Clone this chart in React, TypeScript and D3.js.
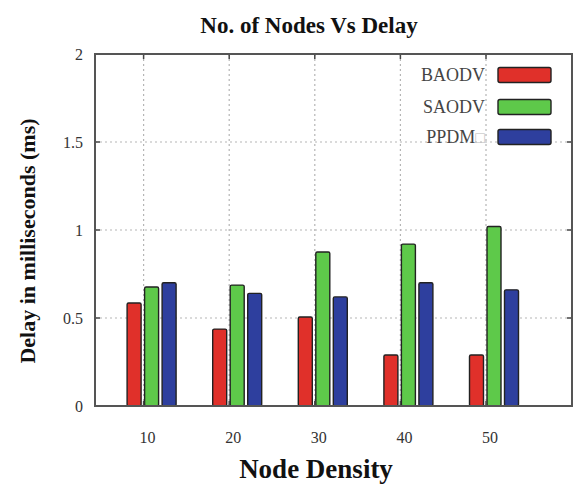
import * as d3 from "d3";
import { useEffect, useRef } from "react";

const densities = [10, 20, 30, 40, 50];
const seriesNames = ["BAODV", "SAODV", "PPDM"];
const baodv = [0.585, 0.437, 0.506, 0.29, 0.29];
const saodv = [0.676, 0.687, 0.875, 0.92, 1.02];
const ppdm = [0.7, 0.64, 0.62, 0.7, 0.66];
const yTicks = [0, 0.5, 1, 1.5, 2];
const colors = ["#e0302a", "#5ec94a", "#2e3f9e"];

export default function App() {
  const ref = useRef<SVGSVGElement>(null);

  useEffect(() => {
    const svg = d3.select(ref.current);
    svg.selectAll("*").remove();
    const W = 573, H = 487;
    const left = 95, right = 572, top = 54, bottom = 406;
    const font = "'Liberation Serif', 'Times New Roman', serif";

    svg.append("rect").attr("width", W).attr("height", H).attr("fill", "white");

    const x = d3.scaleLinear().domain([10, 50]).range([143.6, 486]);
    const y = d3.scaleLinear().domain([0, 2]).range([bottom, top]);
    const x1 = d3.scaleBand().domain(seriesNames).range([-16.5, 32.5]).paddingInner(0.2);

    // grid
    const grid = svg.append("g").attr("stroke", "#b5b5b5").attr("stroke-width", 1.2).attr("stroke-dasharray", "2,3");
    yTicks.slice(1, -1).forEach(t => {
      grid.append("line").attr("x1", left).attr("x2", right).attr("y1", y(t)).attr("y2", y(t));
    });
    densities.forEach(d => {
      grid.append("line").attr("x1", x(d)).attr("x2", x(d)).attr("y1", top).attr("y2", bottom);
    });

    // bars
    const values = [baodv, saodv, ppdm];
    const bars = svg.append("g");
    densities.forEach((d, i) => {
      seriesNames.forEach((s, k) => {
        const v = values[k][i];
        bars.append("rect")
          .attr("x", x(d) + (x1(s) as number))
          .attr("y", y(v))
          .attr("width", x1.bandwidth())
          .attr("height", y(0) - y(v))
          .attr("rx", 1.5)
          .attr("fill", colors[k])
          .attr("stroke", "#222")
          .attr("stroke-width", 1.4);
      });
    });

    // ticks on frame
    const tk = svg.append("g").attr("stroke", "#444").attr("stroke-width", 1.5);
    yTicks.forEach(t => {
      tk.append("line").attr("x1", left).attr("x2", left + 5).attr("y1", y(t)).attr("y2", y(t));
      tk.append("line").attr("x1", right).attr("x2", right - 5).attr("y1", y(t)).attr("y2", y(t));
    });
    densities.forEach(d => {
      tk.append("line").attr("x1", x(d)).attr("x2", x(d)).attr("y1", top).attr("y2", top + 5);
      tk.append("line").attr("x1", x(d)).attr("x2", x(d)).attr("y1", bottom).attr("y2", bottom - 5);
    });

    // frame
    svg.append("rect").attr("x", left).attr("y", top).attr("width", right - left).attr("height", bottom - top)
      .attr("fill", "none").attr("stroke", "#555").attr("stroke-width", 2);

    // tick labels
    yTicks.forEach(t => {
      svg.append("text").attr("x", 83).attr("y", y(t)).attr("dy", "0.35em")
        .attr("text-anchor", "end").attr("font-family", font).attr("font-size", 16).attr("fill", "#333")
        .text(String(t));
    });
    densities.forEach(d => {
      svg.append("text").attr("x", x(d) + 4).attr("y", 437).attr("dy", "0.35em")
        .attr("text-anchor", "middle").attr("font-family", font).attr("font-size", 16).attr("fill", "#333")
        .text(String(d));
    });

    // titles
    svg.append("text").attr("x", 309).attr("y", 33).attr("text-anchor", "middle")
      .attr("font-family", font).attr("font-weight", "bold").attr("font-size", 23).attr("fill", "#111")
      .text("No. of Nodes Vs Delay");
    svg.append("text").attr("x", 316).attr("y", 478).attr("text-anchor", "middle")
      .attr("font-family", font).attr("font-weight", "bold").attr("font-size", 27).attr("fill", "#111")
      .text("Node Density");
    svg.append("text").attr("transform", "translate(35,241) rotate(-90)").attr("text-anchor", "middle")
      .attr("font-family", font).attr("font-weight", "bold").attr("font-size", 22).attr("fill", "#111")
      .text("Delay in milliseconds (ms)");

    // legend
    const ly = [75, 107, 137];
    seriesNames.forEach((s, k) => {
      const t = svg.append("text").attr("x", 485).attr("y", ly[k]).attr("dy", "0.35em").attr("text-anchor", "end")
        .attr("font-family", font).attr("font-size", 18).attr("fill", "#444");
      if (s === "PPDM") {
        t.append("tspan").text("PPDM");
        t.append("tspan").attr("fill", "#bbb").attr("font-size", 16).text("□");
      } else {
        t.text(s);
      }
      svg.append("rect").attr("x", 498).attr("y", ly[k] - 7.5).attr("width", 53).attr("height", 15).attr("rx", 2)
        .attr("fill", colors[k]).attr("stroke", "#222").attr("stroke-width", 1.4);
    });
  }, []);

  return (
    <svg ref={ref} width={573} height={487} style={{ position: "absolute", left: 0, top: 0 }} />
  );
}
